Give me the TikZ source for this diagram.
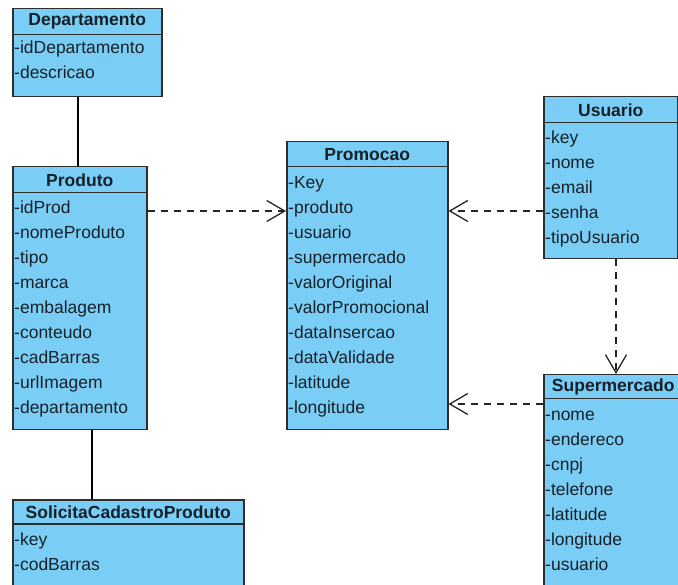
\documentclass[tikz,border=0pt]{standalone}
\usepackage{fontspec}
\setmainfont{Liberation Sans}
\usetikzlibrary{arrows.meta}
\definecolor{clsfill}{RGB}{122,206,245}
\definecolor{clsline}{RGB}{45,45,45}
\definecolor{txt}{RGB}{22,32,40}
\tikzset{
  hdr/.style={draw=clsline, fill=clsfill, line width=1.5pt, anchor=north west, inner sep=0pt,
              font=\fontsize{17.5}{20}\selectfont\bfseries, text=txt},
  body/.style={draw=clsline, fill=clsfill, line width=1.5pt, anchor=north west, inner sep=0pt},
  attr/.style={anchor=base west, yshift=-6.5pt, inner sep=0pt, font=\fontsize{17.5}{20}\selectfont, text=txt},
  solidlink/.style={draw=black, line width=1.3pt},
  deplink/.style={draw=black!85, line width=1.3pt, dash pattern=on 7pt off 6pt,
                  -{Straight Barb[length=18pt,width=21pt,line width=1.3pt]}}
}
\begin{document}
\begin{tikzpicture}[x=1pt,y=-1pt]
\useasboundingbox (0,0) rectangle (678,585);
\clip (0,0) rectangle (678,585);
\fill[white] (0,0) rectangle (678,585);

% Departamento
\node[body, minimum width=149, minimum height=62] (depB) at (12,34) {};
\node[hdr, minimum width=149, minimum height=26] (depH) at (12,8) {Departamento};
\node[attr] (depA1) at (14,47) {-idDepartamento};
\node[attr] (depA2) at (14,72) {-descricao};

% Produto
\node[body, minimum width=134, minimum height=237] (prodB) at (12,192) {};
\node[hdr, minimum width=134, minimum height=26] (prodH) at (12,166) {Produto};
\node[attr] (prodA1) at (14,207) {-idProd};
\node[attr] (prodA2) at (14,232) {-nomeProduto};
\node[attr] (prodA3) at (14,257) {-tipo};
\node[attr] (prodA4) at (14,282) {-marca};
\node[attr] (prodA5) at (14,307) {-embalagem};
\node[attr] (prodA6) at (14,332) {-conteudo};
\node[attr] (prodA7) at (14,357) {-cadBarras};
\node[attr] (prodA8) at (14,382) {-urlImagem};
\node[attr] (prodA9) at (14,407) {-departamento};

% Promocao
\node[body, minimum width=161, minimum height=263] (promB) at (286,166) {};
\node[hdr, minimum width=161, minimum height=25] (promH) at (286,141) {Promocao};
\node[attr] (promA1) at (288,182) {-Key};
\node[attr] (promA2) at (288,207) {-produto};
\node[attr] (promA3) at (288,232) {-usuario};
\node[attr] (promA4) at (288,257) {-supermercado};
\node[attr] (promA5) at (288,282) {-valorOriginal};
\node[attr] (promA6) at (288,307) {-valorPromocional};
\node[attr] (promA7) at (288,332) {-dataInsercao};
\node[attr] (promA8) at (288,357) {-dataValidade};
\node[attr] (promA9) at (288,382) {-latitude};
\node[attr] (promA10) at (288,407) {-longitude};

% Usuario
\node[body, minimum width=134, minimum height=136] (usrB) at (543,122) {};
\node[hdr, minimum width=134, minimum height=26] (usrH) at (543,96) {Usuario};
\node[attr] (usrA1) at (545,137) {-key};
\node[attr] (usrA2) at (545,162) {-nome};
\node[attr] (usrA3) at (545,187) {-email};
\node[attr] (usrA4) at (545,212) {-senha};
\node[attr] (usrA5) at (545,237) {-tipoUsuario};

% Supermercado
\node[body, minimum width=139, minimum height=222] (supB) at (543,398) {};
\node[hdr, minimum width=139, minimum height=24] (supH) at (543,374) {Supermercado};
\node[attr] (supA1) at (545,414) {-nome};
\node[attr] (supA2) at (545,439) {-endereco};
\node[attr] (supA3) at (545,464) {-cnpj};
\node[attr] (supA4) at (545,489) {-telefone};
\node[attr] (supA5) at (545,514) {-latitude};
\node[attr] (supA6) at (545,539) {-longitude};
\node[attr] (supA7) at (545,564) {-usuario};

% SolicitaCadastroProduto
\node[body, minimum width=231, minimum height=100] (solB) at (12,523) {};
\node[hdr, minimum width=231, minimum height=24] (solH) at (12,499) {SolicitaCadastroProduto};
\node[attr] (solA1) at (14,539) {-key};
\node[attr] (solA2) at (14,564) {-codBarras};

% connectors
\coordinate (r1) at (0,211);
\coordinate (r2) at (0,404);
\coordinate (c1) at (78,0);
\coordinate (c2) at (92,0);
\coordinate (c3) at (616,0);
\draw[solidlink] (depB.south -| c1) -- (prodH.north -| c1);
\draw[solidlink] (prodB.south -| c2) -- (solH.north -| c2);
\draw[deplink] (prodB.east |- r1) -- (promB.west |- r1);
\draw[deplink] (usrB.west |- r1) -- (promB.east |- r1);
\draw[deplink] (supB.west |- r2) -- (promB.east |- r2);
\draw[deplink] (usrB.south -| c3) -- (supH.north -| c3);
\end{tikzpicture}
\end{document}
